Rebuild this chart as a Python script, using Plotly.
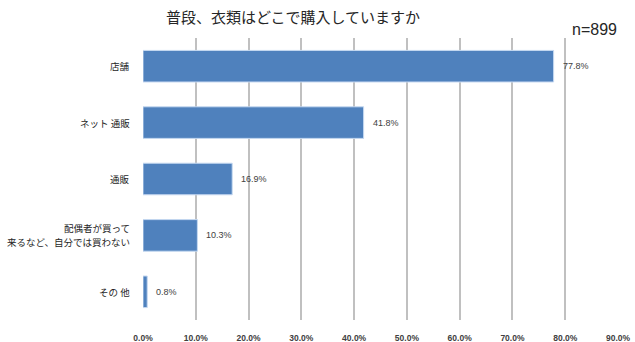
import plotly.graph_objects as go

# Survey answers: where people usually buy clothing
categories = [
    "店舗",
    "ネット 通販",
    "通販",
    "配偶者が買って\n来るなど、自分では買わない",
    "その 他",
]
shares = [77.8, 41.8, 16.9, 10.3, 0.8]
x_ticks = [0, 10, 20, 30, 40, 50, 60, 70, 80, 90]

JP_FONT = "Noto Sans CJK JP"
W, H = 635, 342
M = dict(l=143, r=17, t=38, b=22)
PLOT_W = W - M["l"] - M["r"]
PLOT_H = H - M["t"] - M["b"]
LINE_GAP = 14  # px between lines of a wrapped category label

fig = go.Figure(
    go.Bar(
        y=categories,
        x=shares,
        orientation="h",
        width=0.56,
        marker=dict(color="#4F81BD", line=dict(color="#C6D9F1", width=1)),
        hoverinfo="x",
    )
)

# category labels, drawn left of the plot with a roomier line spacing
for cat in categories:
    lines = cat.split("\n")
    n = len(lines)
    for i, line in enumerate(lines):
        fig.add_annotation(
            x=0, y=cat, xref="paper", yref="y",
            text=line,
            showarrow=False,
            xanchor="right", yanchor="middle",
            xshift=-11,
            yshift=((n - 1) / 2 - i) * LINE_GAP,
            font=dict(family=JP_FONT, size=9.5, color="#262626"),
        )

# value labels just to the right of each bar
for cat, v in zip(categories, shares):
    fig.add_annotation(
        x=v, y=cat, xref="x", yref="y",
        text=f"{v:.1f}%",
        showarrow=False,
        xanchor="left", yanchor="middle",
        xshift=7,
        font=dict(family="Liberation Sans", size=9, color="#404040"),
    )

# sample size note above the top right of the plot
fig.add_annotation(
    text="n=899",
    xref="paper", yref="paper",
    x=(594 - M["l"]) / PLOT_W,
    y=1 + (M["t"] - 29) / PLOT_H,
    xanchor="center", yanchor="middle",
    showarrow=False,
    font=dict(family="Liberation Sans", size=16, color="#262626"),
)

fig.update_layout(
    width=W,
    height=H,
    margin=M,
    paper_bgcolor="white",
    plot_bgcolor="white",
    showlegend=False,
    font=dict(family=JP_FONT, color="#262626"),
    title=dict(
        text="普段、衣類はどこで購入していますか",
        font=dict(family=JP_FONT, size=15, color="#262626"),
        x=293 / W,
        xref="container",
        xanchor="center",
        y=1 - 18 / H,
        yref="container",
        yanchor="middle",
    ),
    xaxis=dict(
        range=[0, 90],
        tickvals=x_ticks,
        ticktext=[f"{v:.1f}%" for v in x_ticks],
        tickfont=dict(family="Liberation Sans", size=8.5, color="#404040", weight="bold"),
        showgrid=True,
        gridcolor="#C0C0C0",
        gridwidth=1.5,
        zeroline=False,
        showline=False,
        ticks="",
        ticklabelstandoff=11,
        automargin=False,
        fixedrange=True,
    ),
    yaxis=dict(
        autorange="reversed",
        showticklabels=False,
        showgrid=False,
        zeroline=False,
        showline=False,
        ticks="",
        automargin=False,
        fixedrange=True,
    ),
)

fig.write_html("out.html")
